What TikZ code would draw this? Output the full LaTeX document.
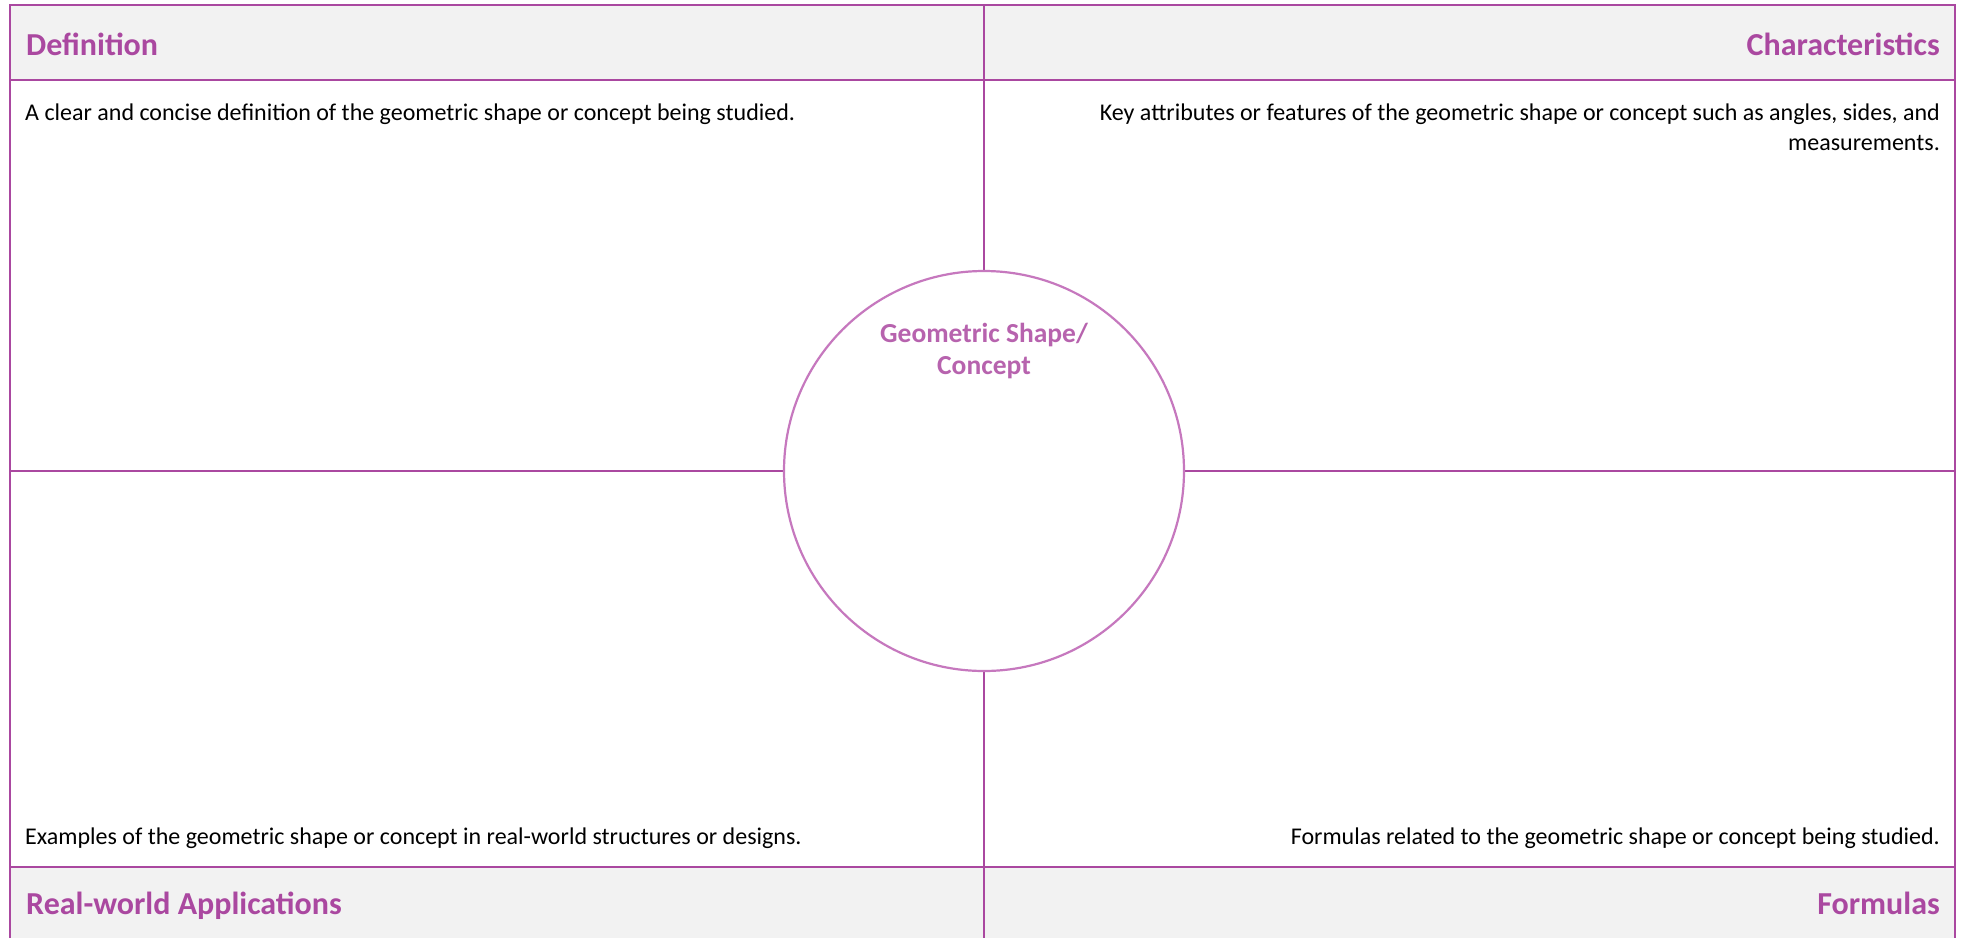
\documentclass[tikz,border=0pt]{standalone}
\usepackage{fontspec}
\setmainfont{Carlito}
\definecolor{pur}{RGB}{170,72,160}
\definecolor{purlight}{RGB}{198,120,190}
\definecolor{hdrgray}{RGB}{242,242,242}
\tikzset{
  frameline/.style={draw=pur, line width=2.2pt},
  hdrtext/.style={inner sep=0pt, text=pur, font=\fontsize{32}{36}\selectfont\bfseries},
  bodytext/.style={inner sep=0pt, text=black, font=\fontsize{24}{28}\selectfont},
  centercircle/.style={circle, draw=purlight, line width=2.2pt, fill=white, minimum size=400pt, inner sep=0pt},
  circtext/.style={inner sep=0pt, text=pur!85!white, font=\fontsize{27.5}{33}\selectfont\bfseries}
}
\begin{document}
\begin{tikzpicture}[x=1pt,y=-1pt]
\useasboundingbox (0,0) rectangle (1965,938);
% corner coordinates
\coordinate (TL) at (10,5);
\coordinate (TR) at (1955,5);
\coordinate (BL) at (10,938);
\coordinate (BR) at (1955,938);
\coordinate (HL) at (10,80);
\coordinate (HR) at (1955,80);
\coordinate (FL) at (10,867);
\coordinate (FR) at (1955,867);
\coordinate (MT) at (984,5);
\coordinate (MB) at (984,938);
\coordinate (ML) at (10,471);
\coordinate (MR) at (1955,471);
% header bands
\fill[hdrgray] (TL) rectangle (HR);
\fill[hdrgray] (FL) rectangle (BR);
% grid lines
\draw[frameline] (BL) -- (TL) -- (TR) -- (BR);
\draw[frameline] (HL) -- (HR);
\draw[frameline] (FL) -- (FR);
\draw[frameline] (MT) -- (MB);
\draw[frameline] (ML) -- (MR);
% center circle
\node[centercircle] (circ) at (984,471) {};
\node[circtext] (c1) at (984,335) {Geometric Shape/};
\node[circtext] (c2) at (984,368) {Concept};
% headers
\node[hdrtext, anchor=base west] (hdef) at (26,55) {Definition};
\node[hdrtext, anchor=base east] (hchar) at (1940,55) {Characteristics};
\node[hdrtext, anchor=base west] (happ) at (26,914) {Real-world Applications};
\node[hdrtext, anchor=base east] (hform) at (1940,914) {Formulas};
% body texts
\node[bodytext, anchor=base west] (tdef) at (25,120) {A clear and concise definition of the geometric shape or concept being studied.};
\node[bodytext, anchor=base east] (tchar1) at (1940,120) {Key attributes or features of the geometric shape or concept such as angles, sides, and};
\node[bodytext, anchor=base east] (tchar2) at (1940,150) {measurements.};
\node[bodytext, anchor=base west] (tapp) at (25,844) {Examples of the geometric shape or concept in real-world structures or designs.};
\node[bodytext, anchor=base east] (tform) at (1940,844) {Formulas related to the geometric shape or concept being studied.};
\end{tikzpicture}
\end{document}
